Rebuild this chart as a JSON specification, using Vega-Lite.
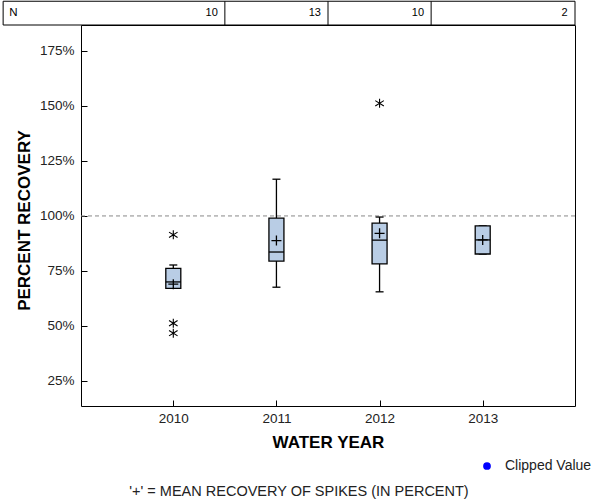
{
  "$schema": "https://vega.github.io/schema/vega-lite/v6.json",
  "width": 494,
  "height": 381,
  "autosize": {"type": "none"},
  "padding": {"left": 81, "top": 25, "right": 25, "bottom": 94},
  "background": "white",
  "config": {
    "view": {"stroke": "black", "strokeWidth": 1},
    "font": "Liberation Sans",
    "scale": {"continuousPadding": 0},
    "axis": {
      "grid": false,
      "domain": false,
      "tickColor": "black",
      "tickSize": -6,
      "tickWidth": 1,
      "labelFont": "Liberation Sans",
      "labelFontSize": 13.5,
      "labelColor": "#222",
      "titleFont": "Liberation Sans",
      "titleFontSize": 17,
      "titleFontWeight": "bold",
      "titleColor": "black"
    }
  },
  "title": {
    "text": "'+' = MEAN RECOVERY OF SPIKES (IN PERCENT)",
    "orient": "bottom",
    "anchor": "middle",
    "font": "Liberation Sans",
    "fontSize": 14.5,
    "fontWeight": "normal",
    "color": "#222",
    "offset": 12,
    "dx": -29
  },
  "datasets": {
    "boxes": [
      {"year": 2010, "n": 10, "lower": 67.1, "q1": 67.1, "median": 70.0, "q3": 76.2, "upper": 77.7, "mean": 69.0},
      {"year": 2011, "n": 13, "lower": 67.6, "q1": 79.5, "median": 83.6, "q3": 99.0, "upper": 116.7, "mean": 88.8},
      {"year": 2012, "n": 10, "lower": 65.5, "q1": 78.2, "median": 89.0, "q3": 96.7, "upper": 99.5, "mean": 92.1},
      {"year": 2013, "n": 2, "lower": 82.7, "q1": 82.7, "median": 89.1, "q3": 95.5, "upper": 95.5, "mean": 89.1}
    ],
    "outliers": [
      {"year": 2010, "value": 91.4},
      {"year": 2010, "value": 51.2},
      {"year": 2010, "value": 46.7},
      {"year": 2012, "value": 151.2}
    ],
    "clipped": [],
    "edges": [
      {"edge": 2010.5},
      {"edge": 2011.5},
      {"edge": 2012.5}
    ],
    "one": [{}]
  },
  "layer": [
    {
      "data": {"name": "one"},
      "mark": {"type": "rule", "color": "#888888", "strokeDash": [4, 3], "strokeWidth": 1},
      "encoding": {
        "y": {"datum": 100, "type": "quantitative", "scale": {"domain": [13.6, 186.8], "nice": false, "zero": false, "padding": 0}}
      }
    },
    {
      "data": {"name": "boxes"},
      "mark": {"type": "rule", "color": "black", "strokeWidth": 1.3},
      "encoding": {
        "x": {"field": "year", "type": "quantitative", "scale": {"domain": [2009.105, 2013.895], "nice": false, "zero": false, "padding": 0}},
        "y": {"field": "lower", "type": "quantitative", "scale": {"domain": [13.6, 186.8], "nice": false, "zero": false, "padding": 0}},
        "y2": {"field": "q1"}
      }
    },
    {
      "data": {"name": "boxes"},
      "mark": {"type": "rule", "color": "black", "strokeWidth": 1.3},
      "encoding": {
        "x": {"field": "year", "type": "quantitative", "scale": {"domain": [2009.105, 2013.895], "nice": false, "zero": false, "padding": 0}},
        "y": {"field": "q3", "type": "quantitative", "scale": {"domain": [13.6, 186.8], "nice": false, "zero": false, "padding": 0}},
        "y2": {"field": "upper"}
      }
    },
    {
      "data": {"name": "boxes"},
      "mark": {"type": "tick", "orient": "horizontal", "size": 8, "thickness": 1.3, "color": "black", "opacity": 1},
      "encoding": {
        "x": {"field": "year", "type": "quantitative", "scale": {"domain": [2009.105, 2013.895], "nice": false, "zero": false, "padding": 0}},
        "y": {"field": "upper", "type": "quantitative", "scale": {"domain": [13.6, 186.8], "nice": false, "zero": false, "padding": 0}}
      }
    },
    {
      "data": {"name": "boxes"},
      "mark": {"type": "tick", "orient": "horizontal", "size": 8, "thickness": 1.3, "color": "black", "opacity": 1},
      "encoding": {
        "x": {"field": "year", "type": "quantitative", "scale": {"domain": [2009.105, 2013.895], "nice": false, "zero": false, "padding": 0}},
        "y": {"field": "lower", "type": "quantitative", "scale": {"domain": [13.6, 186.8], "nice": false, "zero": false, "padding": 0}}
      }
    },
    {
      "data": {"name": "boxes"},
      "mark": {"type": "bar", "size": 15, "fill": "#b9cde5", "stroke": "black", "strokeWidth": 1.3, "opacity": 1},
      "encoding": {
        "x": {
          "field": "year", "type": "quantitative",
          "scale": {"domain": [2009.105, 2013.895], "nice": false, "zero": false, "padding": 0},
          "axis": {"values": [2010, 2011, 2012, 2013], "format": "d", "title": "WATER YEAR", "labelPadding": 11, "titlePadding": 10}
        },
        "y": {
          "field": "q1", "type": "quantitative",
          "scale": {"domain": [13.6, 186.8], "nice": false, "zero": false, "padding": 0},
          "axis": {"values": [25, 50, 75, 100, 125, 150, 175], "labelExpr": "datum.value + '%'", "title": "PERCENT RECOVERY", "labelPadding": 13, "titlePadding": 6, "titleY": 195}
        },
        "y2": {"field": "q3"}
      }
    },
    {
      "data": {"name": "boxes"},
      "mark": {"type": "tick", "orient": "horizontal", "size": 15, "thickness": 1.3, "color": "black", "opacity": 1},
      "encoding": {
        "x": {"field": "year", "type": "quantitative", "scale": {"domain": [2009.105, 2013.895], "nice": false, "zero": false, "padding": 0}},
        "y": {"field": "median", "type": "quantitative", "scale": {"domain": [13.6, 186.8], "nice": false, "zero": false, "padding": 0}}
      }
    },
    {
      "data": {"name": "boxes"},
      "mark": {"type": "point", "shape": "M-1,0L1,0M0,-1L0,1", "size": 100, "stroke": "black", "strokeWidth": 1.3, "filled": false, "opacity": 1},
      "encoding": {
        "x": {"field": "year", "type": "quantitative", "scale": {"domain": [2009.105, 2013.895], "nice": false, "zero": false, "padding": 0}},
        "y": {"field": "mean", "type": "quantitative", "scale": {"domain": [13.6, 186.8], "nice": false, "zero": false, "padding": 0}}
      }
    },
    {
      "data": {"name": "outliers"},
      "mark": {"type": "point", "shape": "M0,-1L0,1M-0.95,-0.6L0.95,0.6M-0.95,0.6L0.95,-0.6", "size": 81, "stroke": "black", "strokeWidth": 1.1, "filled": false, "opacity": 1},
      "encoding": {
        "x": {"field": "year", "type": "quantitative", "scale": {"domain": [2009.105, 2013.895], "nice": false, "zero": false, "padding": 0}},
        "y": {"field": "value", "type": "quantitative", "scale": {"domain": [13.6, 186.8], "nice": false, "zero": false, "padding": 0}}
      }
    },
    {
      "data": {"name": "clipped"},
      "mark": {"type": "point", "shape": "circle", "filled": true, "size": 60, "opacity": 1},
      "encoding": {
        "x": {"field": "year", "type": "quantitative", "scale": {"domain": [2009.105, 2013.895], "nice": false, "zero": false, "padding": 0}},
        "y": {"field": "value", "type": "quantitative", "scale": {"domain": [13.6, 186.8], "nice": false, "zero": false, "padding": 0}},
        "color": {
          "field": "kind", "type": "nominal",
          "scale": {"domain": ["Clipped Value"], "range": ["#0000ff"]},
          "legend": {"title": null, "orient": "none", "legendX": 399, "legendY": 434, "padding": 0, "labelFont": "Liberation Sans", "labelFontSize": 14, "labelColor": "#222", "labelOffset": 11, "symbolSize": 60, "symbolType": "circle", "symbolStrokeWidth": 0}
        }
      }
    },
    {
      "data": {"name": "one"},
      "mark": {"type": "rect", "fill": "white", "stroke": "black", "strokeWidth": 1},
      "encoding": {
        "x": {"datum": 2008.35, "type": "quantitative", "scale": {"domain": [2009.105, 2013.895], "nice": false, "zero": false, "padding": 0}},
        "x2": {"datum": 2013.895},
        "y": {"datum": 186.8, "type": "quantitative", "scale": {"domain": [13.6, 186.8], "nice": false, "zero": false, "padding": 0}},
        "y2": {"datum": 197.6}
      }
    },
    {
      "data": {"name": "edges"},
      "mark": {"type": "rule", "color": "black", "strokeWidth": 1},
      "encoding": {
        "x": {"field": "edge", "type": "quantitative", "scale": {"domain": [2009.105, 2013.895], "nice": false, "zero": false, "padding": 0}},
        "y": {"datum": 186.8, "type": "quantitative", "scale": {"domain": [13.6, 186.8], "nice": false, "zero": false, "padding": 0}},
        "y2": {"datum": 197.6}
      }
    },
    {
      "data": {"name": "boxes"},
      "transform": [{"filter": "datum.year < 2013"}],
      "mark": {"type": "text", "align": "right", "baseline": "middle", "dx": 44.5, "font": "Liberation Sans", "fontSize": 11, "color": "black"},
      "encoding": {
        "x": {"field": "year", "type": "quantitative", "scale": {"domain": [2009.105, 2013.895], "nice": false, "zero": false, "padding": 0}},
        "y": {"datum": 192.2, "type": "quantitative", "scale": {"domain": [13.6, 186.8], "nice": false, "zero": false, "padding": 0}},
        "text": {"field": "n"}
      }
    },
    {
      "data": {"name": "boxes"},
      "transform": [{"filter": "datum.year == 2013"}],
      "mark": {"type": "text", "align": "right", "baseline": "middle", "dx": 85, "font": "Liberation Sans", "fontSize": 11, "color": "black"},
      "encoding": {
        "x": {"field": "year", "type": "quantitative", "scale": {"domain": [2009.105, 2013.895], "nice": false, "zero": false, "padding": 0}},
        "y": {"datum": 192.2, "type": "quantitative", "scale": {"domain": [13.6, 186.8], "nice": false, "zero": false, "padding": 0}},
        "text": {"field": "n"}
      }
    },
    {
      "data": {"name": "one"},
      "mark": {"type": "text", "align": "left", "baseline": "middle", "dx": 6, "font": "Liberation Sans", "fontSize": 11.5, "color": "black", "text": "N"},
      "encoding": {
        "x": {"datum": 2008.35, "type": "quantitative", "scale": {"domain": [2009.105, 2013.895], "nice": false, "zero": false, "padding": 0}},
        "y": {"datum": 192.2, "type": "quantitative", "scale": {"domain": [13.6, 186.8], "nice": false, "zero": false, "padding": 0}}
      }
    }
  ]
}
